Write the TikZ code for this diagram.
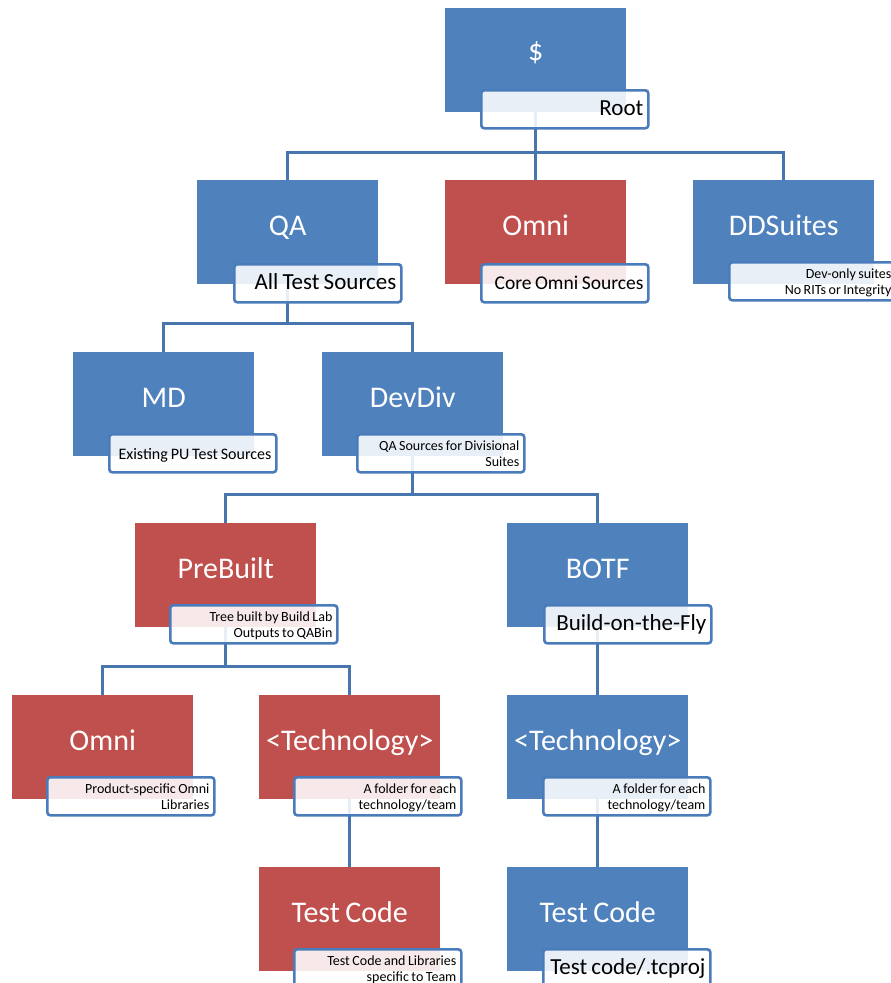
\documentclass[tikz,border=0pt]{standalone}
\usepackage{fontspec}
\setmainfont{Carlito}[WordSpace=0.8]
\definecolor{cblue}{HTML}{4F81BD}
\definecolor{cred}{HTML}{C0504D}
\definecolor{cline}{HTML}{4775AE}
\definecolor{cframe}{HTML}{4A7BBA}
\tikzset{
  mainbox/.style={anchor=north west, minimum width=181pt, minimum height=104pt, inner sep=0pt, draw=none},
  bluebox/.style={mainbox, fill=cblue},
  redbox/.style={mainbox, fill=cred},
  title/.style={anchor=base, text=white, inner sep=0pt, font=\fontsize{30}{36}\selectfont},
  conn/.style={draw=cline, line width=3.5pt},
  lbl/.style={anchor=north west, draw=cframe, line width=2.6pt, rounded corners=3pt,
    fill=white, fill opacity=0.88, minimum width=167pt, minimum height=38pt, inner sep=0pt},
  ltxt/.style={inner sep=0pt, text=black, align=right},
  onebig/.style={ltxt, anchor=base east, font=\fontsize{23}{26}\selectfont},
  onemid/.style={ltxt, anchor=base east, font=\fontsize{19.5}{22}\selectfont},
  onesm/.style={ltxt, anchor=base east, font=\fontsize{16}{19}\selectfont},
  two/.style={ltxt, anchor=north east, font=\fontsize{14}{16}\selectfont},
}
\begin{document}
\begin{tikzpicture}[x=1pt,y=1pt]
\useasboundingbox (0,0) rectangle (891,-983);
% main boxes
\node[bluebox] (root) at (445,-8) {};
\node[bluebox] (qa) at (197,-180) {};
\node[redbox] (omnia) at (445,-180) {};
\node[bluebox] (dds) at (693,-180) {};
\node[bluebox] (md) at (73,-352) {};
\node[bluebox] (devdiv) at (322,-352) {};
\node[redbox] (prebuilt) at (135,-523) {};
\node[bluebox] (botf) at (507,-523) {};
\node[redbox] (omnib) at (12,-695) {};
\node[redbox] (techa) at (259,-695) {};
\node[bluebox] (techb) at (507,-695) {};
\node[redbox] (testa) at (259,-867) {};
\node[bluebox] (testb) at (507,-867) {};
% titles
\node[title] (roott) at ([yshift=-52pt]root.north) {\$};
\node[title] (qat) at ([yshift=-55pt]qa.north) {QA};
\node[title] (omniat) at ([yshift=-55pt]omnia.north) {Omni};
\node[title] (ddst) at ([yshift=-55pt]dds.north) {DDSuites};
\node[title] (mdt) at ([yshift=-55pt]md.north) {MD};
\node[title] (devdivt) at ([yshift=-55pt]devdiv.north) {DevDiv};
\node[title] (prebuiltt) at ([yshift=-55pt]prebuilt.north) {PreBuilt};
\node[title] (botft) at ([yshift=-55pt]botf.north) {BOTF};
\node[title] (omnibt) at ([yshift=-55pt]omnib.north) {Omni};
\node[title] (techat) at ([yshift=-55pt]techa.north) {<Technology>};
\node[title] (techbt) at ([yshift=-55pt]techb.north) {<Technology>};
\node[title] (testat) at ([yshift=-55pt]testa.north) {Test Code};
\node[title] (testbt) at ([yshift=-55pt]testb.north) {Test Code};
% connectors
\draw[conn] (root.south) -- ++(0,-40) coordinate (ja);
\draw[conn] (qa.north) |- (ja) -| (dds.north);
\draw[conn] (ja) -- (omnia.north);
\draw[conn] (qa.south) -- ++(0,-39) coordinate (jb);
\draw[conn] (md.north) |- (jb) -| (devdiv.north);
\draw[conn] (devdiv.south) -- ++(0,-38) coordinate (jc);
\draw[conn] (prebuilt.north) |- (jc) -| (botf.north);
\draw[conn] (prebuilt.south) -- ++(0,-39) coordinate (jd);
\draw[conn] (omnib.north) |- (jd) -| (techa.north);
\draw[conn] (botf.south) -- (techb.north);
\draw[conn] (techa.south) -- (testa.north);
\draw[conn] (techb.south) -- (testb.north);
% label frames
\node[lbl] (rootl) at ([xshift=35pt,yshift=-81pt]root.north west) {};
\node[lbl] (qal) at ([xshift=36pt,yshift=-83pt]qa.north west) {};
\node[lbl] (omnial) at ([xshift=35pt,yshift=-83pt]omnia.north west) {};
\node[lbl] (ddsl) at ([xshift=35pt,yshift=-81pt]dds.north west) {};
\node[lbl] (mdl) at ([xshift=35pt,yshift=-81pt]md.north west) {};
\node[lbl] (devdivl) at ([xshift=34pt,yshift=-81pt]devdiv.north west) {};
\node[lbl] (prebuiltl) at ([xshift=34pt,yshift=-81pt]prebuilt.north west) {};
\node[lbl] (botfl) at ([xshift=36pt,yshift=-81pt]botf.north west) {};
\node[lbl] (omnibl) at ([xshift=34pt,yshift=-81pt]omnib.north west) {};
\node[lbl] (techal) at ([xshift=34pt,yshift=-81pt]techa.north west) {};
\node[lbl] (techbl) at ([xshift=35pt,yshift=-81pt]techb.north west) {};
\node[lbl] (testal) at ([xshift=34pt,yshift=-81pt]testa.north west) {};
\node[lbl] (testbl) at ([xshift=35pt,yshift=-81pt]testb.north west) {};
% label texts
\node[onebig] (rootlt) at ([xshift=-6pt,yshift=-6.5pt]rootl.east) {Root};
\node[onebig] (qalt) at ([xshift=-6pt,yshift=-6.5pt]qal.east) {All Test Sources};
\node[onemid] (omnialt) at ([xshift=-6pt,yshift=-6.5pt]omnial.east) {Core Omni Sources};
\node[two] (ddslt) at ([xshift=-6pt,yshift=13pt]ddsl.east) {Dev-only suites\\No RITs or Integrity};
\node[onesm] (mdlt) at ([xshift=-6pt,yshift=-6.5pt]mdl.east) {Existing PU Test Sources};
\node[two] (devdivlt) at ([xshift=-6pt,yshift=13pt]devdivl.east) {QA Sources for Divisional\\Suites};
\node[two] (prebuiltlt) at ([xshift=-6pt,yshift=13pt]prebuiltl.east) {Tree built by Build Lab\\Outputs to QABin};
\node[onebig] (botflt) at ([xshift=-6pt,yshift=-6.5pt]botfl.east) {Build-on-the-Fly};
\node[two] (omniblt) at ([xshift=-6pt,yshift=13pt]omnibl.east) {Product-specific Omni\\Libraries};
\node[two] (techalt) at ([xshift=-6pt,yshift=13pt]techal.east) {A folder for each\\technology/team};
\node[two] (techblt) at ([xshift=-6pt,yshift=13pt]techbl.east) {A folder for each\\technology/team};
\node[two] (testalt) at ([xshift=-6pt,yshift=13pt]testal.east) {Test Code and Libraries\\specific to Team};
\node[onebig] (testblt) at ([xshift=-6pt,yshift=-6.5pt]testbl.east) {Test code/.tcproj};
\end{tikzpicture}
\end{document}
